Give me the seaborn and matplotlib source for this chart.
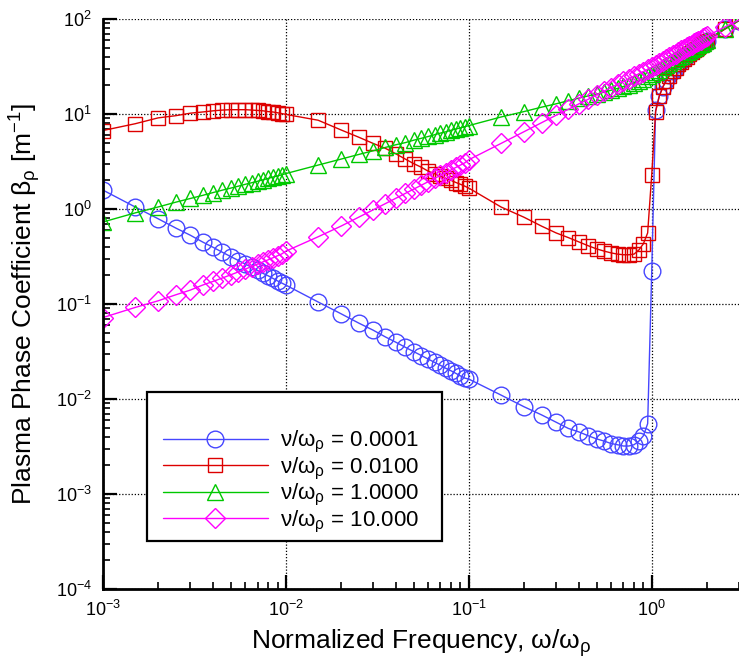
import matplotlib
matplotlib.use("Agg")
import matplotlib.pyplot as plt
from matplotlib.patches import Rectangle
import seaborn as sns

sns.set_theme(style="white")
plt.rcParams['font.family'] = ['Liberation Sans', 'DejaVu Sans']
plt.rcParams['mathtext.fontset'] = 'custom'
plt.rcParams['mathtext.rm'] = 'Liberation Sans'
plt.rcParams['mathtext.it'] = 'Liberation Sans'
plt.rcParams['mathtext.default'] = 'regular'
plt.rcParams['text.color'] = 'black'
plt.rcParams['axes.labelcolor'] = 'black'
plt.rcParams['xtick.color'] = 'black'
plt.rcParams['ytick.color'] = 'black'

# normalized frequency w/wp (same grid for all four curves)
freq = [0.001, 0.0015, 0.002, 0.0025, 0.003, 0.0035, 0.004, 0.0045, 0.005,
        0.0055, 0.006, 0.0065, 0.007, 0.0075, 0.008, 0.0085, 0.009, 0.0095,
        0.01, 0.015, 0.02, 0.025, 0.03, 0.035, 0.04, 0.045, 0.05,
        0.055, 0.06, 0.065, 0.07, 0.075, 0.08, 0.085, 0.09, 0.095,
        0.1, 0.15, 0.2, 0.25, 0.3, 0.35, 0.4, 0.45, 0.5,
        0.55, 0.6, 0.65, 0.7, 0.75, 0.8, 0.85, 0.9, 0.95,
        1.0, 1.05, 1.1, 1.15, 1.2, 1.25, 1.3, 1.35, 1.4, 1.45, 1.5,
        1.55, 1.6, 1.65, 1.7, 1.75, 1.8, 1.85, 1.9, 1.95, 2.0,
        2.5, 3.0]

# phase coefficient [1/m]
beta_nu_0001 = [1.58, 1.05, 0.79, 0.63, 0.53, 0.45, 0.395, 0.35, 0.315,
                0.287, 0.263, 0.243, 0.226, 0.21, 0.198, 0.186, 0.175, 0.166,
                0.158, 0.105, 0.079, 0.063, 0.053, 0.045, 0.0395, 0.035, 0.0315,
                0.0287, 0.0263, 0.0243, 0.0226, 0.021, 0.0198, 0.0186, 0.0175, 0.0166,
                0.0162, 0.011, 0.0083, 0.0068, 0.0057, 0.0049, 0.0045, 0.0041, 0.0038,
                0.0036, 0.0034, 0.0033, 0.0032, 0.0032, 0.0033, 0.0036, 0.0041, 0.0055,
                0.22, 10.9, 15.6, 19.3, 22.6, 25.5, 28.3, 30.8, 33.3, 35.7, 38.0,
                40.3, 42.5, 44.6, 46.7, 48.8, 50.9, 52.9, 54.9, 56.9, 58.9,
                77.9, 96.2]

beta_nu_0100 = [6.7, 7.9, 9.1, 9.6, 10.2, 10.5, 10.8, 11.0, 11.1,
                11.1, 11.1, 11.0, 10.9, 10.8, 10.6, 10.5, 10.3, 10.1,
                9.9, 8.6, 6.8, 5.7, 4.9, 4.35, 3.8, 3.35, 3.0,
                2.75, 2.5, 2.35, 2.2, 2.1, 2.0, 1.9, 1.82, 1.74,
                1.66, 1.05, 0.82, 0.66, 0.56, 0.5, 0.45, 0.41, 0.38,
                0.36, 0.345, 0.335, 0.33, 0.33, 0.335, 0.37, 0.43, 0.56,
                2.3, 10.6, 15.4, 19.2, 22.5, 25.4, 28.2, 30.7, 33.2, 35.6, 37.9,
                40.2, 42.4, 44.5, 46.7, 48.8, 50.8, 52.8, 54.8, 56.8, 58.8,
                77.8, 96.1]

beta_nu_1 = [0.73, 0.91, 1.05, 1.18, 1.29, 1.39, 1.49, 1.58, 1.66,
             1.74, 1.82, 1.89, 1.96, 2.03, 2.1, 2.17, 2.23, 2.29,
             2.36, 2.9, 3.35, 3.75, 4.1, 4.45, 4.75, 5.0, 5.3,
             5.55, 5.8, 6.05, 6.3, 6.5, 6.75, 6.95, 7.15, 7.35,
             7.55, 9.3, 10.6, 11.8, 12.8, 13.8, 14.7, 15.5, 16.2,
             17.0, 17.8, 18.6, 19.5, 20.4, 21.4, 22.5, 23.6, 24.9,
             26.3, 27.8, 29.4, 31.0, 32.6, 34.3, 36.0, 37.7, 39.4, 41.1, 42.8,
             44.5, 46.2, 47.9, 49.6, 51.3, 53.0, 54.7, 56.4, 58.1, 60.0,
             79.0, 97.0]

beta_nu_10 = [0.072, 0.092, 0.108, 0.125, 0.14, 0.158, 0.173, 0.188, 0.203,
              0.218, 0.233, 0.248, 0.263, 0.278, 0.292, 0.307, 0.322, 0.337,
              0.36, 0.51, 0.66, 0.82, 0.98, 1.14, 1.3, 1.46, 1.62,
              1.78, 1.94, 2.1, 2.26, 2.42, 2.58, 2.74, 2.9, 3.06,
              3.3, 4.9, 6.5, 8.1, 9.7, 11.2, 12.8, 14.3, 15.9,
              17.4, 19.0, 20.5, 22.0, 23.5, 25.0, 26.5, 28.0, 29.5,
              31.0, 32.8, 34.5, 36.3, 38.0, 39.8, 41.5, 43.3, 45.0, 46.8, 48.5,
              50.3, 52.0, 53.8, 55.5, 57.3, 59.0, 60.8, 62.5, 64.3, 66.0,
              82.0, 98.0]

series_labels = [r'ν/ω$_\rho$ = 0.0001', r'ν/ω$_\rho$ = 0.0100',
                 r'ν/ω$_\rho$ = 1.0000', r'ν/ω$_\rho$ = 10.000']
series_values = [beta_nu_0001, beta_nu_0100, beta_nu_1, beta_nu_10]
colors = ['#4646ff', '#dd0000', '#00c800', '#ff00ff']
markers = ['o', 's', '^', 'D']
msizes = [12, 10, 11, 10]

fig = plt.figure(figsize=(7.39, 6.63), dpi=100)
ax = fig.add_axes([103 / 739, 74 / 663, 636 / 739, 570 / 663])

for vals, lab, c, m, ms in zip(series_values, series_labels, colors, markers, msizes):
    sns.lineplot(x=freq, y=vals, ax=ax, color=c, marker=m, markersize=ms,
                 markerfacecolor='none', markeredgecolor=c, markeredgewidth=1.0,
                 linewidth=1.0, label=lab, sort=False, estimator=None)

ax.set_xscale('log')
ax.set_yscale('log')
ax.set_xlim(1e-3, 3.0)
ax.set_ylim(1e-4, 1e2)

ax.grid(True, which='major', color='black', linestyle=(0, (1, 1.5)), linewidth=0.9)
ax.grid(False, which='minor')

for side in ['top', 'right']:
    ax.spines[side].set_visible(False)
for side in ['left', 'bottom']:
    ax.spines[side].set_color('black')
    ax.spines[side].set_linewidth(2.0)

ax.tick_params(axis='both', which='both', direction='in', colors='black',
               left=True, bottom=True, top=False, right=False)
ax.tick_params(axis='both', which='major', length=10, width=1.6, labelsize=13, pad=8)
ax.tick_params(axis='both', which='minor', length=5, width=1.2)

ax.set_xlabel(r'Normalized Frequency, ω/ω$_\rho$', fontsize=19, labelpad=5)
ax.set_ylabel(r'Plasma Phase Coefficient β$_\rho$ [m$^{-1}$]', fontsize=19, labelpad=9)

# legend box drawn separately (taller than its entries, like the original)
box = Rectangle((147 / 739, 122 / 663), 295 / 739, 149 / 663, transform=fig.transFigure,
                facecolor='white', edgecolor='black', linewidth=1.6, zorder=5,
                clip_on=False)
ax.add_patch(box)
leg = ax.legend(loc='upper left', bbox_to_anchor=(152 / 739, 1 - 418 / 663),
                bbox_transform=fig.transFigure, frameon=False, fontsize=16,
                handlelength=4.7, handletextpad=0.55, labelspacing=0.02, borderpad=0)
leg.set_zorder(6)

fig.savefig('out.png', dpi=100)
